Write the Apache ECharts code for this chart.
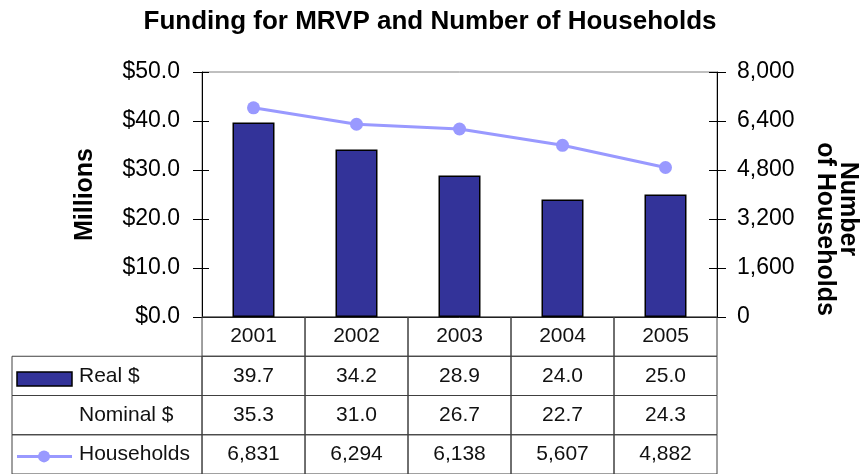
<!DOCTYPE html>
<html>
<head>
<meta charset="utf-8">
<script src="https://cdn.jsdelivr.net/npm/echarts@6/dist/echarts.min.js"></script>
<style>
  html, body { margin: 0; padding: 0; background: #fff; }
  #chart { width: 863px; height: 474px; }
</style>
</head>
<body>
<div id="chart"></div>
<script>
var years = ['2001', '2002', '2003', '2004', '2005']
var realDollars = [39.7, 34.2, 28.9, 24.0, 25.0]
var nominalDollars = [35.3, 31.0, 26.7, 22.7, 24.3]
var households = [6831, 6294, 6138, 5607, 4882]
var rowNames = ['Real $', 'Nominal $', 'Households']
var fundingMax = 50, fundingStep = 10
var householdMax = 8000, householdStep = 1600

var font = "'Liberation Sans', Arial, sans-serif"
var headerStart = -1.845   // header column width in table units

function fmtMoney(v) { return '$' + v.toFixed(1) }
function fmtCount(v) { return v.toLocaleString('en-US') }

// table cells: row 0 = years, rows 1..3 = data rows
var tableCells = []
years.forEach(function (y, i) {
  tableCells.push({ col: i, row: 0, text: y, border: true })
})
var rowValues = [
  realDollars.map(function (v) { return v.toFixed(1) }),
  nominalDollars.map(function (v) { return v.toFixed(1) }),
  households.map(fmtCount)
]
var rowIcons = ['bar', null, 'line']
rowValues.forEach(function (vals, r) {
  tableCells.push({ col: -1, row: r + 1, text: rowNames[r], border: true, icon: rowIcons[r] })
  vals.forEach(function (t, i) {
    tableCells.push({ col: i, row: r + 1, text: t, border: true })
  })
})

function renderCell(params, api) {
  var c = tableCells[params.dataIndex]
  var isHead = c.col < 0
  var p0 = api.coord([isHead ? headerStart : c.col, c.row])
  var p1 = api.coord([isHead ? 0 : c.col + 1, c.row + 1])
  var w = p1[0] - p0[0], h = p1[1] - p0[1]
  var cy = p0[1] + h / 2
  var kids = []
  if (c.border) {
    kids.push({ type: 'rect', shape: { x: p0[0], y: p0[1], width: w, height: h },
      style: { fill: null, stroke: '#404040', lineWidth: 1 } })
  }
  if (c.icon === 'bar') {
    kids.push({ type: 'rect', shape: { x: p0[0] + 5, y: cy - 4, width: 55, height: 14 },
      style: { fill: '#333399', stroke: '#000', lineWidth: 1.5 } })
  } else if (c.icon === 'line') {
    kids.push({ type: 'line', shape: { x1: p0[0] + 5, y1: cy + 2, x2: p0[0] + 60, y2: cy + 2 },
      style: { stroke: '#9999FF', lineWidth: 3 } })
    kids.push({ type: 'circle', shape: { cx: p0[0] + 32, cy: cy + 2, r: 6 },
      style: { fill: '#9999FF' } })
  }
  kids.push({ type: 'text', style: {
    text: c.text, x: isHead ? p0[0] + 67 : p0[0] + w / 2, y: cy,
    align: isHead ? 'left' : 'center', verticalAlign: 'middle',
    fill: '#111', font: '21px ' + font } })
  return { type: 'group', children: kids }
}

var chart = echarts.init(document.getElementById('chart'))
var option = {
  animation: false,
  backgroundColor: '#fff',
  textStyle: { fontFamily: font },
  title: {
    text: 'Funding for MRVP and Number of Households',
    left: 425, top: 4, textAlign: 'center',
    textStyle: { fontSize: 26, fontWeight: 'bold', color: '#000', fontFamily: font }
  },
  graphic: [
    { type: 'text', x: 848, y: 209, rotation: -Math.PI / 2,
      style: { text: 'Number', font: 'bold 25px ' + font, fill: '#000', align: 'center', verticalAlign: 'middle' } },
    { type: 'text', x: 825, y: 229, rotation: -Math.PI / 2,
      style: { text: 'of Households', font: 'bold 25px ' + font, fill: '#000', align: 'center', verticalAlign: 'middle' } }
  ],
  grid: [
    { left: 202, right: 146, top: 72, bottom: 157, show: true, borderColor: '#808080', borderWidth: 1 },
    { left: 12, right: 146, top: 317, height: 164 }
  ],
  xAxis: [
    { type: 'category', gridIndex: 0, data: years,
      axisLine: { lineStyle: { color: '#000' } }, axisTick: { show: false }, axisLabel: { show: false } },
    { type: 'value', gridIndex: 1, min: headerStart, max: 5, show: false }
  ],
  yAxis: [
    { type: 'value', gridIndex: 0, position: 'left', min: 0, max: fundingMax, interval: fundingStep,
      name: 'Millions', nameLocation: 'middle', nameRotate: 90, nameGap: 104,
      nameTextStyle: { fontSize: 25, fontWeight: 'bold', color: '#000', fontFamily: font },
      axisLine: { show: true, lineStyle: { color: '#000' } },
      axisTick: { show: true, length: 9, lineStyle: { color: '#000' } },
      axisLabel: { formatter: fmtMoney, fontSize: 23, color: '#000', margin: 22, fontFamily: font },
      splitLine: { show: false } },
    { type: 'value', gridIndex: 0, position: 'right', min: 0, max: householdMax, interval: householdStep,
      axisLine: { show: true, lineStyle: { color: '#000' } },
      axisTick: { show: true, length: 9, lineStyle: { color: '#000' } },
      axisLabel: { formatter: fmtCount, fontSize: 23, color: '#000', margin: 20, fontFamily: font },
      splitLine: { show: false } },
    { type: 'value', gridIndex: 0, position: 'left', min: 0, max: fundingMax, interval: fundingStep,
      axisLine: { show: false }, axisLabel: { show: false }, splitLine: { show: false },
      axisTick: { show: true, inside: true, length: 7, lineStyle: { color: '#000' } } },
    { type: 'value', gridIndex: 0, position: 'right', min: 0, max: householdMax, interval: householdStep,
      axisLine: { show: false }, axisLabel: { show: false }, splitLine: { show: false },
      axisTick: { show: true, inside: true, length: 8, lineStyle: { color: '#000' } } },
    { type: 'value', gridIndex: 1, min: 0, max: 4, inverse: true, show: false }
  ],
  series: [
    { name: 'Real $', type: 'bar', xAxisIndex: 0, yAxisIndex: 0, data: realDollars, barWidth: 42,
      itemStyle: { color: '#333399', borderColor: '#000', borderWidth: 1.5 } },
    { name: 'Households', type: 'line', xAxisIndex: 0, yAxisIndex: 1, data: households,
      symbol: 'circle', symbolSize: 13, lineStyle: { color: '#9999FF', width: 3 },
      itemStyle: { color: '#9999FF' } },
    { name: 'table', type: 'custom', xAxisIndex: 1, yAxisIndex: 4, clip: false,
      renderItem: renderCell,
      data: tableCells.map(function (c) { return [c.col, c.row] }) }
  ]
}
chart.setOption(option)
</script>
</body>
</html>
